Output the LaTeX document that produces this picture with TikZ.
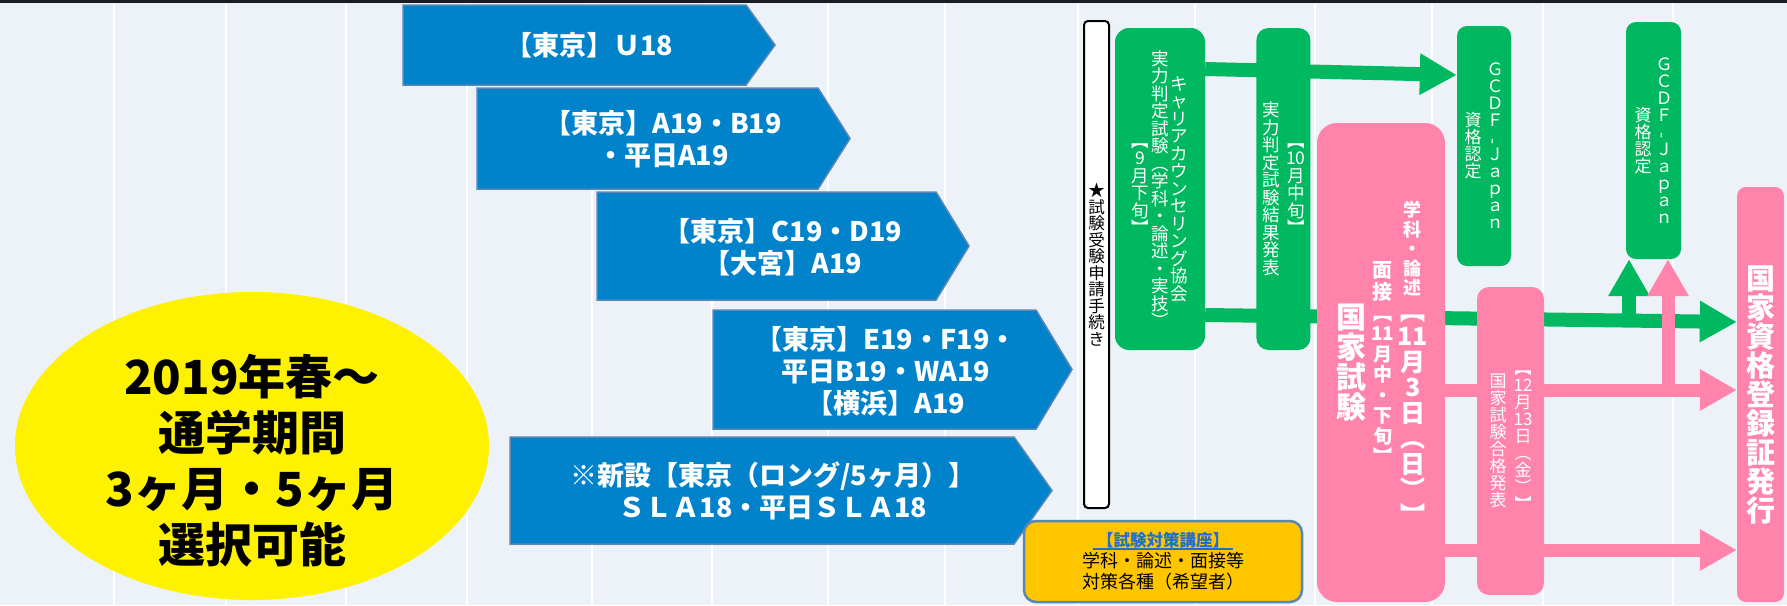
\documentclass[tikz,border=0pt]{standalone}
\usepackage{fontspec}
\setmainfont{Noto Sans CJK JP}
\usetikzlibrary{shapes.geometric, arrows.meta, positioning, calc}
\definecolor{colorFondo}{HTML}{EDF2F9}
\definecolor{colorBorde}{HTML}{1C1C24}
\definecolor{colorFlecha}{HTML}{0083CA}
\definecolor{colorFilete}{HTML}{5A86B6}
\definecolor{colorVerde}{HTML}{00B85F}
\definecolor{colorRosa}{HTML}{FF83AA}
\definecolor{colorAmbar}{HTML}{FFC600}
\definecolor{colorTitulo}{HTML}{1F6FCF}
\pgfdeclarelayer{bg}
\pgfdeclarelayer{lines}
\pgfsetlayers{bg,lines,main}

% texto vertical: un caracter por fila
\makeatletter
\newdimen\tatewd
\def\tate@end{\tate@end}
\def\tate@loop#1{\ifx\tate@end#1\else\hbox to\tatewd{\hss#1\hss}\expandafter\tate@loop\fi}
\newcommand\tatechars[1]{\tate@loop#1\tate@end}
\newcommand\tatecol[2]{$\vcenter{\fontsize{#1}{#1}\selectfont\tatewd=#1pt\relax\lineskiplimit=-\maxdimen\tatechars{#2}}$}
\newcommand\tatetwo[7]{$\vcenter{\tatewd=#1pt\relax\lineskiplimit=-\maxdimen\fontsize{#2}{#3}\selectfont\tatechars{#4}\fontsize{#5}{#6}\selectfont\tatechars{#7}}$}
\makeatother
\newcommand\tatehyph{\rotatebox[origin=c]{90}{-}}
\newcommand\subrayado[1]{\setbox0\hbox{#1}\rlap{\hspace{-4pt}\rule[-3.5pt]{\dimexpr\wd0+8pt\relax}{2.5pt}}\box0}

\begin{document}
\begin{tikzpicture}[
        x=1pt, y=-1pt,
        arr/.style={fill=colorFlecha, draw=colorFilete, line width=1.5pt},
        arrtxt/.style={text=white, inner sep=0pt, align=center, font=\fontsize{27}{32}\selectfont\bfseries},
        gbox/.style={fill=colorVerde, rounded corners=14pt, inner sep=0pt, text=white},
        pbox/.style={fill=colorRosa, rounded corners=14pt, inner sep=0pt, text=white},
        gline/.style={draw=colorVerde, line width=14pt, -{Triangle[length=37pt, width=39pt]}},
        pline/.style={draw=colorRosa, line width=13pt, -{Triangle[length=37pt, width=39pt]}}
    ]
        \useasboundingbox (0,0) rectangle (1787,605);
        \begin{pgfonlayer}{bg}
            \fill[colorFondo] (0,0) rectangle (1787,605);
            \foreach \x in {114,226,346,467,592,712,828,945,1078,1195,1315,1432,1543,1673}
                \draw[white, line width=2.5pt] (\x,0) -- (\x,605);
            \draw[colorBorde, line width=3pt] (0,1.5) -- (1787,1.5);
        \end{pgfonlayer}

        % ellipse
        \node[ellipse, fill=yellow, minimum width=474pt, minimum height=308pt, inner sep=0pt] (haru) at (252,446) {};
        \node[font=\fontsize{47}{56}\selectfont\bfseries, align=center, inner sep=0pt] (haruTexto) at (252,461) {2019年春～\\通学期間\\3ヶ月・5ヶ月\\選択可能};

        % cursos
        \draw[arr] (403,5) -- (746,5) -- (775,45) -- (746,85) -- (403,85) -- cycle;
        \node[arrtxt] (u18) at (589,45) {【東京】Ｕ18};
        \draw[arr] (477,88) -- (818,88) -- (850,138.5) -- (818,189) -- (477,189) -- cycle;
        \node[arrtxt] (ab19) at (663,139.5) {【東京】A19・B19\\・平日A19};
        \draw[arr] (597,192) -- (936,192) -- (969,246) -- (936,300) -- (597,300) -- cycle;
        \node[arrtxt] (cd19) at (783,247) {【東京】C19・D19\\【大宮】A19};
        \draw[arr] (713,310) -- (1036,310) -- (1072,369.5) -- (1036,429) -- (713,429) -- cycle;
        \node[arrtxt] (ef19) at (886,371) {【東京】E19・F19・\\平日B19・WA19\\【横浜】A19};
        \draw[arr] (510,437) -- (1014,437) -- (1052,490.5) -- (1014,544) -- (510,544) -- cycle;
        \node[arrtxt] (sla18) at (773,491) {※新設【東京（ロング/5ヶ月）】\\ＳＬＡ18・平日ＳＬＡ18};

        % tramites
        \node[draw=black, line width=2pt, fill=white, rounded corners=4pt, minimum width=25pt, minimum height=487pt, inner sep=0pt] (shinsei) at (1096.5,264.5) {\tatecol{16.5}{★試験受験申請手続き}};
        \node[gbox, minimum width=90pt, minimum height=322pt] (jitsuryoku) at (1160,189) {\tatecol{17.5}{︻9月下旬︼}\hspace{2pt}\tatecol{17.5}{実力判定試験︵学科・論述・実技︶}\hspace{2pt}\tatecol{17.5}{キャリアカウンセリング協会}};
        \node[gbox, rounded corners=12pt, minimum width=54pt, minimum height=322pt, right=51pt of jitsuryoku] (kekka) {\tatecol{17.5}{実力判定試験結果発表}\hspace{7.5pt}\tatecol{17.5}{︻{10}月中旬︼}};
        \node[gbox, rounded corners=10pt, minimum width=54pt, minimum height=240pt] (gcdfA) at (1484,146) {\tatecol{17}{資格認定}\hspace{5pt}\tatecol{17}{ＧＣＤＦ{\tatehyph}Ｊａｐａｎ}};
        \node[gbox, rounded corners=10pt, minimum width=55pt, minimum height=237pt] (gcdfB) at (1653.5,140.5) {\tatecol{17}{資格認定}\hspace{4pt}\tatecol{17}{ＧＣＤＦ{\tatehyph}Ｊａｐａｎ}};
        \node[pbox, rounded corners=20pt, minimum width=128pt, minimum height=479pt, font=\bfseries] (kokka) at (1381,362.5) {\tatecol{30}{国家試験}\hspace{6pt}\tatetwo{20}{20}{22}{面接}{19}{20.5}{︻{11}月中・下旬︼}\hspace{7.5pt}\tatetwo{25}{18}{19.5}{学科・論述}{25}{25.5}{︻{11}月3日︵日︶︼}};
        \node[pbox, rounded corners=12pt, minimum width=67pt, minimum height=308pt] (goukaku) at (1510.5,441) {\tatecol{17}{国家試験合格発表}\hspace{8pt}\tatecol{17}{︻{12}月{13}日︵金︶︼}};
        \node[pbox, rounded corners=9pt, minimum width=47pt, minimum height=415pt, font=\bfseries] (touroku) at (1760.5,394.5) {\tatecol{29}{国家資格登録証発行}};
        \node[fill=colorAmbar, draw=colorFilete, line width=2.5pt, rounded corners=12pt, minimum width=278pt, minimum height=81pt, align=center, font=\fontsize{18}{21}\selectfont] (taisaku) at (1163,561.5) {{\color{colorTitulo}\fontsize{16.5}{21}\selectfont\bfseries\subrayado{【試験対策講座】}}\\学科・論述・面接等\\対策各種（希望者）};

        \begin{pgfonlayer}{lines}
            \draw[gline] (jitsuryoku.east |- 0,69) -- (gcdfA.west |- 0,75);
            \draw[gline] (jitsuryoku.east |- 0,315) -- (touroku.west |- 0,322);
            \coordinate (gUp) at (1629,321);
            \draw[gline] (gUp) -- (gUp |- gcdfB.south);
            \draw[pline] (kokka.east |- 0,390) -- (touroku.west |- 0,390);
            \draw[pline] (kokka.east |- 0,550) -- (touroku.west |- 0,550);
            \coordinate (pUp) at (1668,390);
            \draw[pline] (pUp) -- (pUp |- gcdfB.south);
        \end{pgfonlayer}
    \end{tikzpicture}
\end{document}
